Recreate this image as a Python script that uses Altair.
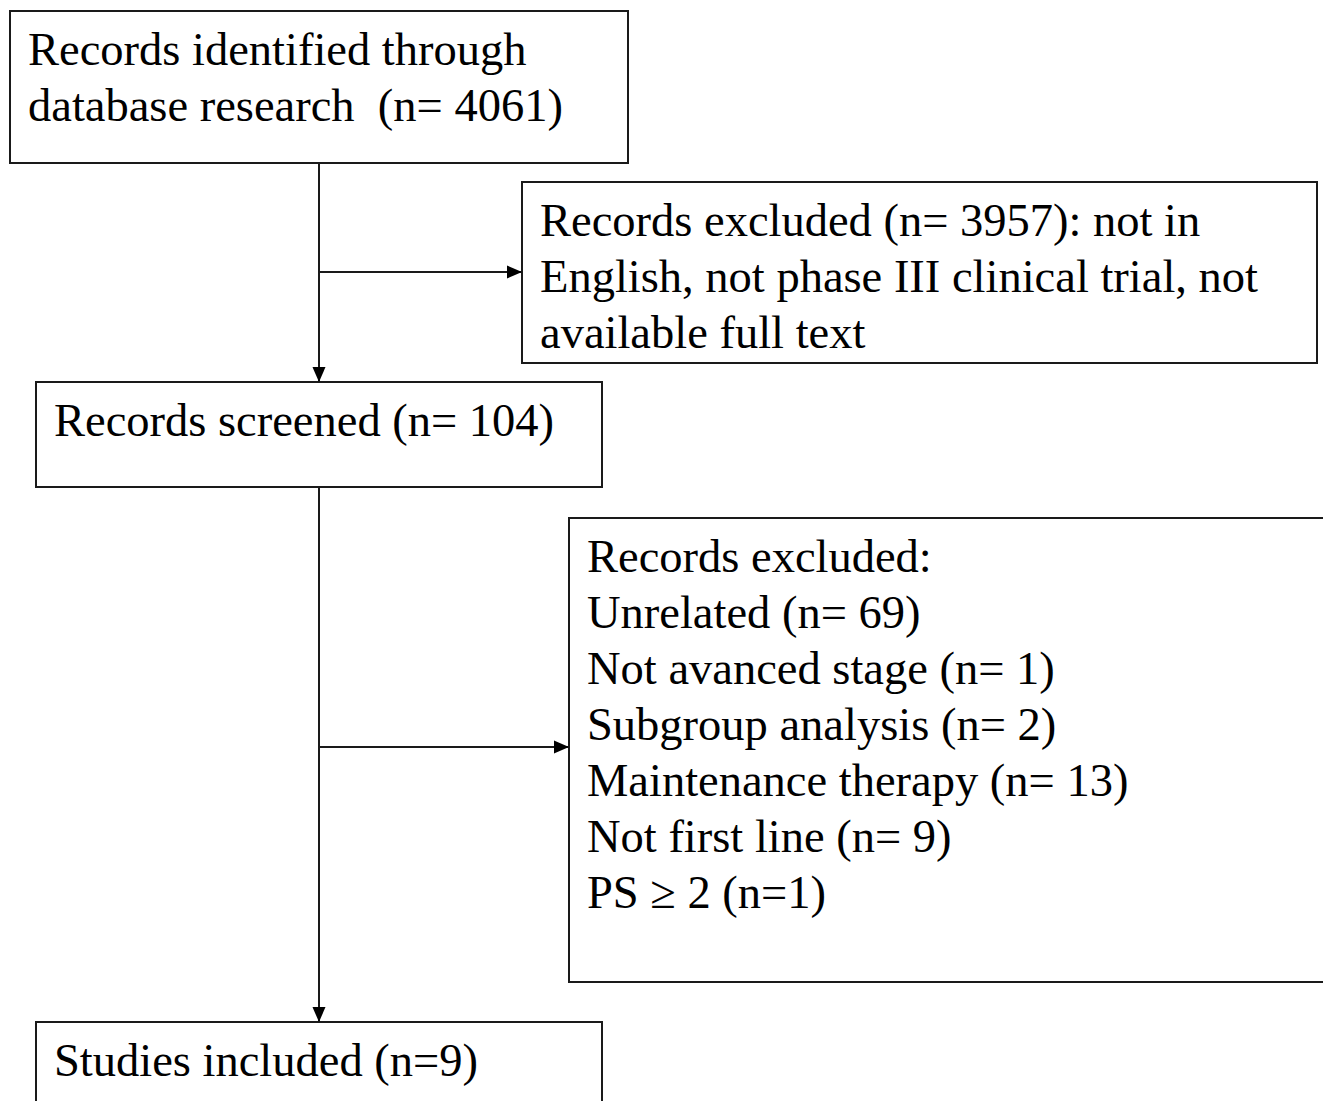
import altair as alt
import pandas as pd

# Box layout (reference pixel coordinates)
box_x1 = [10, 522, 36, 569, 36]
box_x2 = [628, 1317, 602, 1345, 602]
box_y1 = [11, 182, 382, 518, 1022]
box_y2 = [163, 363, 487, 982, 1125]

# Text lines per box
box_lines = [
    ["Records identified through", "database research \u00a0(n= 4061)"],
    ["Records excluded (n= 3957): not in", "English, not phase III clinical trial, not", "available full text"],
    ["Records screened (n= 104)"],
    ["Records excluded:", "Unrelated (n= 69)", "Not avanced stage (n= 1)", "Subgroup analysis (n= 2)",
     "Maintenance therapy (n= 13)", "Not first line (n= 9)", "PS \u2265 2 (n=1)"],
    ["Studies included (n=9)"],
]
text_x = [28, 540, 54, 587, 54]
first_baseline = [65, 236, 436, 572, 1076]
line_step = 56

# Connector lines
line_x1 = [319, 319, 319, 319]
line_y1 = [163, 272, 487, 747]
line_x2 = [319, 522, 319, 569]
line_y2 = [382, 272, 1022, 747]

# Arrow tips
tip_x = [522, 319, 569, 319]
tip_y = [272, 382, 747, 1022]
tip_dir = ["right", "down", "right", "down"]

boxes = pd.DataFrame({"x": box_x1, "x2": box_x2, "y": box_y1, "y2": box_y2})
rows = []
for i, lines in enumerate(box_lines):
    for j, t in enumerate(lines):
        rows.append({"x": text_x[i], "y": first_baseline[i] + j * line_step, "t": t})
texts = pd.DataFrame(rows)
lines_df = pd.DataFrame({"x": line_x1, "y": line_y1, "x2": line_x2, "y2": line_y2})
tips = pd.DataFrame({"x": tip_x, "y": tip_y, "d": tip_dir})

xs = alt.Scale(domain=[8, 1323], range=[0, 1315])
ys = alt.Scale(domain=[8, 1101], range=[0, 1093])
X = lambda f: alt.X(f, type="quantitative", scale=xs, axis=None)
Y = lambda f: alt.Y(f, type="quantitative", scale=ys, axis=None)

rects = alt.Chart(boxes).mark_rect(fill="white", stroke="#1a1a1a", strokeWidth=2, clip=True).encode(
    x=X("x"), x2="x2", y=Y("y"), y2="y2")

rules = alt.Chart(lines_df).mark_rule(color="#1a1a1a", strokeWidth=2, clip=True).encode(
    x=X("x"), x2="x2", y=Y("y"), y2="y2")

right_path = "M0 0 L-2 -0.87 L-2 0.87 Z"
down_path = "M0 0 L-0.87 -2 L0.87 -2 Z"
arrows_r = alt.Chart(tips).transform_filter(alt.datum.d == "right").mark_point(
    shape=right_path, size=225, filled=True, color="black", opacity=1, strokeWidth=0).encode(x=X("x"), y=Y("y"))
arrows_d = alt.Chart(tips).transform_filter(alt.datum.d == "down").mark_point(
    shape=down_path, size=225, filled=True, color="black", opacity=1, strokeWidth=0).encode(x=X("x"), y=Y("y"))

labels = alt.Chart(texts).mark_text(
    align="left", baseline="alphabetic", font="Liberation Serif", fontSize=46.5, color="black").encode(
    x=X("x"), y=Y("y"), text="t:N")

chart = alt.layer(rects, rules, arrows_r, arrows_d, labels).properties(
    width=1315, height=1093, padding=0, autosize=alt.AutoSizeParams(type="none")
).configure_view(stroke=None)

chart.save("out.html", embed_options={"renderer": "svg", "actions": False})
